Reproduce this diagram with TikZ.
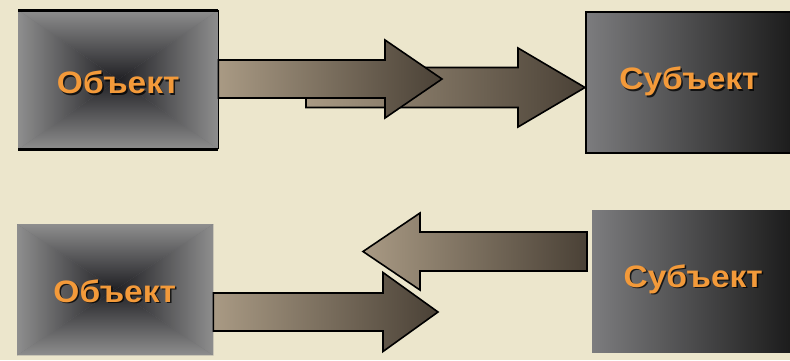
\documentclass[tikz,border=0pt]{standalone}
\usepackage{fontspec}
\newfontfamily\boxfont{Liberation Sans}
\usetikzlibrary{positioning,calc}
\definecolor{paper}{HTML}{ECE6CC}
\definecolor{boxgray}{HTML}{8E8E8E}
\definecolor{boxmid}{HTML}{707074}
\definecolor{boxdark}{HTML}{202024}
\definecolor{subjlight}{HTML}{7C7C7E}
\definecolor{subjdark}{HTML}{1C1C1C}
\definecolor{arrowlight}{HTML}{A99A84}
\definecolor{arrowdark}{HTML}{4A4136}
\definecolor{labelorange}{HTML}{F39A3A}
\tikzset{
  framebox/.style={inner sep=0pt, anchor=north west},
  objbox/.style={framebox, fill=boxmid},
  subjbox/.style={framebox, left color=subjlight, right color=subjdark},
  boxlabel/.style={font=\boxfont\bfseries\fontsize{31}{31}\selectfont, text=labelorange, xscale=1.08, inner sep=0pt},
  labelshadow/.style={boxlabel, text=black, opacity=0.75},
  arrowbody/.style={draw=black, line width=1.6pt, line join=miter, left color=arrowlight, right color=arrowdark},
  edgeline/.style={draw=black, line width=3pt}
}

\begin{document}
\begin{tikzpicture}[x=1pt, y=-1pt]
  \fill[paper] (0,0) rectangle (790,360);
  \useasboundingbox (0,0) rectangle (790,360);

  % top row
  \node[objbox, minimum width=200pt, minimum height=139pt] (obj1) at (18,10) {};
  \shade[top color=boxgray, middle color=boxmid, bottom color=boxdark] (obj1.north west) -- (obj1.north east) -- (obj1.center) -- cycle;
  \shade[top color=boxdark, middle color=boxmid, bottom color=boxgray] (obj1.south west) -- (obj1.south east) -- (obj1.center) -- cycle;
  \shade[left color=boxgray, middle color=boxmid, right color=boxdark] (obj1.north west) -- (obj1.south west) -- (obj1.center) -- cycle;
  \shade[left color=boxdark, middle color=boxmid, right color=boxgray] (obj1.north east) -- (obj1.south east) -- (obj1.center) -- cycle;
  \draw[edgeline] (obj1.north west) -- (obj1.north east);
  \draw[edgeline] (obj1.south west) -- (obj1.south east);
  \draw[black, line width=1.2pt] (obj1.north east) -- (obj1.south east);

  \coordinate (a2s) at (306,87.5);
  \coordinate (a2t) at (585,87.5);
  \filldraw[arrowbody] ($(a2s)+(0,-20)$) -- ($(a2t)+(-67,-20)$) -- ($(a2t)+(-67,-39.5)$) -- (a2t)
    -- ($(a2t)+(-67,39.5)$) -- ($(a2t)+(-67,20)$) -- ($(a2s)+(0,20)$) -- cycle;
  \coordinate (a1s) at (obj1.east |- 0,79);
  \coordinate (a1t) at (442,79);
  \filldraw[arrowbody] ($(a1s)+(0,-19)$) -- ($(a1t)+(-57,-19)$) -- ($(a1t)+(-57,-39)$) -- (a1t)
    -- ($(a1t)+(-57,39)$) -- ($(a1t)+(-57,19)$) -- ($(a1s)+(0,19)$) -- cycle;

  \node[subjbox, minimum width=206pt, minimum height=141pt, draw=black, line width=2pt] (subj1) at (585,11) {};

  \node[labelshadow] (obj1shadow) at ($(obj1.center)+(1.5,3+1.5)$) {Объект};
  \node[boxlabel] (obj1label) at ($(obj1.center)+(0,3)$) {Объект};
  \node[labelshadow] (subj1shadow) at ($(subj1.center)+(1.5,-1+1.5)$) {Субъект};
  \node[boxlabel] (subj1label) at ($(subj1.center)+(0,-1)$) {Субъект};

  % bottom row
  \node[objbox, minimum width=196pt, minimum height=131pt] (obj2) at (17,224) {};
  \shade[top color=boxgray, middle color=boxmid, bottom color=boxdark] (obj2.north west) -- (obj2.north east) -- (obj2.center) -- cycle;
  \shade[top color=boxdark, middle color=boxmid, bottom color=boxgray] (obj2.south west) -- (obj2.south east) -- (obj2.center) -- cycle;
  \shade[left color=boxgray, middle color=boxmid, right color=boxdark] (obj2.north west) -- (obj2.south west) -- (obj2.center) -- cycle;
  \shade[left color=boxdark, middle color=boxmid, right color=boxgray] (obj2.north east) -- (obj2.south east) -- (obj2.center) -- cycle;

  \node[subjbox, minimum width=198pt, minimum height=142pt] (subj2) at (592,210) {};

  \coordinate (a3s) at (obj2.east |- 0,312);
  \coordinate (a3t) at (438,312);
  \filldraw[arrowbody] ($(a3s)+(0,-19)$) -- ($(a3t)+(-55,-19)$) -- ($(a3t)+(-55,-39.5)$) -- (a3t)
    -- ($(a3t)+(-55,39.5)$) -- ($(a3t)+(-55,19)$) -- ($(a3s)+(0,19)$) -- cycle;
  \coordinate (a4s) at (587,251.5);
  \coordinate (a4t) at (363,251.5);
  \filldraw[arrowbody] ($(a4s)+(0,-19.5)$) -- ($(a4t)+(57,-19.5)$) -- ($(a4t)+(57,-38.5)$) -- (a4t)
    -- ($(a4t)+(57,38.5)$) -- ($(a4t)+(57,19.5)$) -- ($(a4s)+(0,19.5)$) -- cycle;

  \node[labelshadow] (obj2shadow) at ($(obj2.center)+(1,1.5+1.5)$) {Объект};
  \node[boxlabel] (obj2label) at ($(obj2.center)+(-0.5,1.5)$) {Объект};
  \node[labelshadow] (subj2shadow) at ($(subj2.center)+(3.5,-2+1.5)$) {Субъект};
  \node[boxlabel] (subj2label) at ($(subj2.center)+(2,-2)$) {Субъект};
\end{tikzpicture}
\end{document}
